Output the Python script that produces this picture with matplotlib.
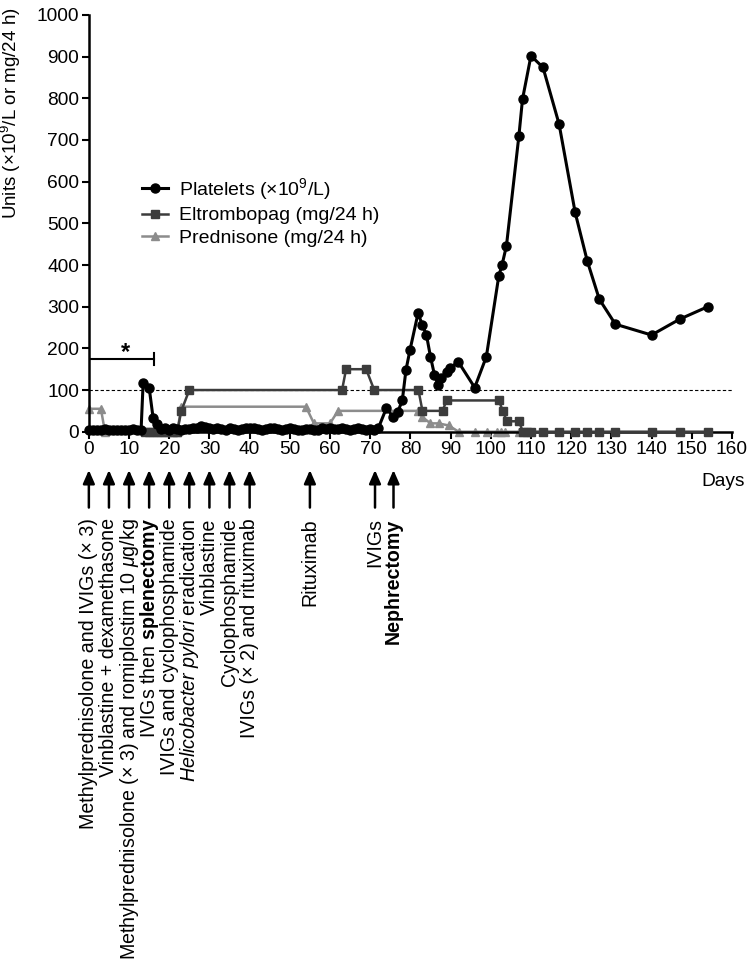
import matplotlib
matplotlib.use("Agg")
import matplotlib.pyplot as plt

plt.rcParams["font.family"] = ["Liberation Sans", "DejaVu Sans"]
plt.rcParams["mathtext.fontset"] = "custom"
plt.rcParams["mathtext.rm"] = "Liberation Sans"
plt.rcParams["mathtext.it"] = "Liberation Sans:italic"
plt.rcParams["mathtext.bf"] = "Liberation Sans:bold"

# ── data ────────────────────────────────────────────────────────────────────
plt_days = [0, 1, 2, 3, 4, 5, 6, 7, 8, 9, 10, 11, 12, 13, 13.5, 15, 16, 17, 18, 19,
            20, 21, 22, 23, 24, 25, 26, 27, 28, 29, 30, 31, 32, 33, 34, 35, 36, 37,
            38, 39, 40, 41, 42, 43, 44, 45, 46, 47, 48, 49, 50, 51, 52, 53, 54, 55,
            56, 57, 58, 59, 60, 61, 62, 63, 64, 65, 66, 67, 68, 69, 70, 71, 72,
            74, 75.7, 76.9, 78, 78.9, 79.9, 81.9, 83, 84, 85, 86, 86.9, 87.7, 89,
            89.8, 91.9, 96, 98.9, 102, 102.8, 103.9, 107, 107.9, 110, 113, 117,
            121, 124, 127, 131, 140, 147, 154]
plt_vals = [4, 3, 5, 4, 6, 3, 5, 4, 3, 5, 4, 6, 5, 5, 116, 106, 32, 18, 6, 8,
            5, 9, 6, 5, 7, 6, 8, 10, 14, 11, 8, 6, 9, 7, 5, 8, 6, 4,
            7, 9, 10, 8, 6, 5, 7, 9, 8, 6, 5, 7, 8, 6, 4, 5, 7, 6,
            4, 5, 8, 6, 10, 7, 6, 8, 7, 5, 6, 8, 7, 5, 6, 5, 8,
            56, 36, 48, 76, 148, 196, 284, 256, 232, 180, 136, 112, 128, 144,
            152, 168, 106, 180, 374, 400, 446, 710, 798, 902, 874, 738,
            526, 410, 318, 258, 232, 270, 300]

elt_days = [14, 15, 16, 17, 18, 19, 20, 21, 22, 23, 25, 63, 64, 69, 71, 82, 83, 88,
            89, 102, 103, 104, 107, 108, 109, 110, 113, 117, 121, 124, 127, 131,
            140, 147, 154]
elt_vals = [0, 0, 0, 0, 0, 0, 0, 0, 0, 50, 100, 100, 150, 150, 100, 100, 50, 50,
            75, 75, 50, 25, 25, 0, 0, 0, 0, 0, 0, 0, 0, 0,
            0, 0, 0]

pred_days = [0, 3, 4, 22, 23, 54, 56, 60, 62, 82, 83, 85, 87, 89.5, 92, 96, 99,
             101.5, 102.5, 103.5, 107]
pred_vals = [55, 55, 0, 0, 60, 60, 20, 20, 50, 50, 35, 20, 20, 15, 0, 0, 0,
             0, 0, 0, 0]

event_days = [0, 5, 10, 15, 20, 25, 30, 35, 40, 55, 71.2, 75.8]
event_labels = [
    "Methylprednisolone and IVIGs (× 3)",
    "Vinblastine + dexamethasone",
    r"Methylprednisolone (× 3) and romiplostim 10 $\mathit{\mu}$g/kg",
    r"IVIGs then $\mathbf{splenectomy}$",
    "IVIGs and cyclophosphamide",
    r"$\mathit{Helicobacter\ pylori}$ eradication",
    "Vinblastine",
    "Cyclophosphamide",
    "IVIGs (× 2) and rituximab",
    "Rituximab",
    "IVIGs",
    "Nephrectomy",
]
event_bold = [False] * 11 + [True]

# ── figure ──────────────────────────────────────────────────────────────────
fig = plt.figure(figsize=(7.53, 9.71), dpi=100)
ax = fig.add_axes([0.118, 0.5554, 0.854, 0.4292])

ax.axhline(100, color="black", lw=0.8, ls=(0, (3, 2)), zorder=1)

ax.plot(pred_days, pred_vals, color="#8c8c8c", lw=1.8, marker="^", ms=6,
        label="Prednisone (mg/24 h)", zorder=2, clip_on=False)
ax.plot(elt_days, elt_vals, color="#3c3c3c", lw=1.8, marker="s", ms=6,
        label="Eltrombopag (mg/24 h)", zorder=3, clip_on=False)
ax.plot(plt_days, plt_vals, color="black", lw=2.2, marker="o", ms=6.5,
        label="Platelets (×10$^9$/L)", zorder=4, clip_on=False)

# bracket with star
ax.plot([0, 16.2], [174, 174], color="black", lw=1.5, zorder=3)
ax.plot([16.2, 16.2], [160, 188], color="black", lw=1.5, zorder=3)
ax.text(9, 190, "*", fontsize=17, fontweight="bold", ha="center", va="center")

ax.set_xlim(0, 160)
ax.set_ylim(0, 1000)
ax.set_xticks(range(0, 161, 10))
ax.set_yticks(range(0, 1001, 100))
ax.spines[["top", "right"]].set_visible(False)
ax.spines[["left", "bottom"]].set_linewidth(1.8)
ax.tick_params(direction="out", length=5, width=1.5, labelsize=13.8, pad=2)
ax.set_ylabel("Units (×10$^9$/L or mg/24 h)", fontsize=13.5)
ax.yaxis.set_label_coords(-0.102, 0.765)

ax.text(163.3, -0.12, "Days", transform=ax.get_xaxis_transform(), fontsize=13.8,
        ha="right", va="center")

h, l = ax.get_legend_handles_labels()
order = [2, 1, 0]
ax.legend([h[i] for i in order], [l[i] for i in order], loc="upper left",
          bbox_to_anchor=(142 / 753, 1 - 176 / 971), bbox_transform=fig.transFigure,
          frameon=False, fontsize=14, handlelength=1.35, handletextpad=0.55,
          labelspacing=0.25, borderpad=0, borderaxespad=0)

# treatment arrows and labels
for day, lab, bold in zip(event_days, event_labels, event_bold):
    ax.annotate("", xy=(day, -0.092), xytext=(day, -0.182),
                xycoords=("data", "axes fraction"), textcoords=("data", "axes fraction"),
                arrowprops=dict(arrowstyle="-|>,head_length=0.8,head_width=0.35",
                                color="black", lw=1.8, shrinkA=0, shrinkB=0))
    ax.text(day, -0.208, lab, transform=ax.get_xaxis_transform(), rotation=90,
            ha="center", va="top", fontsize=14.1,
            fontweight="bold" if bold else "normal")

fig.savefig("out.png", dpi=100)
